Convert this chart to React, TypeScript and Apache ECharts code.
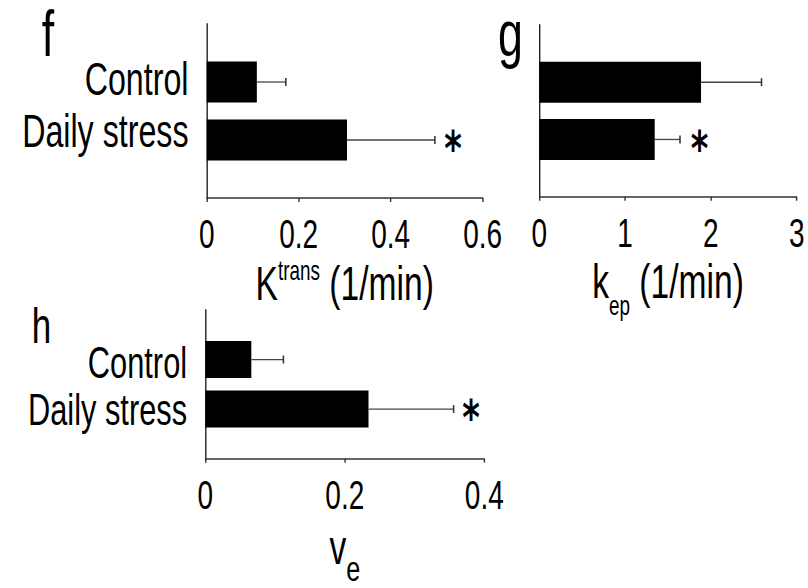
import React, { useEffect, useRef } from 'react';
import * as echarts from 'echarts';

// ---------- data ----------
const categories = ['Control', 'Daily stress'];

const kTransMean = [0.109, 0.305];
const kTransSD = [0.063, 0.191];
const kTransSig = [false, true];
const kTransTicks = [0, 0.2, 0.4, 0.6];

const kepMean = [1.885, 1.345];
const kepSD = [0.705, 0.295];
const kepSig = [false, true];
const kepTicks = [0, 1, 2, 3];

const veMean = [0.066, 0.234];
const veSD = [0.046, 0.122];
const veSig = [false, true];
const veTicks = [0, 0.2, 0.4];

// ---------- layout ----------
const S = 0.7; // horizontal condensation of the whole figure
const W = 808 / S;
const FONT = '"Liberation Sans", Arial, sans-serif';
const MID = 0.3465; // baseline offset below a 'middle' anchor, in em

type Panel = {
  letter: string;
  letterX: number;
  letterBase: number;
  letterSize: number;
  mean: number[];
  sd: number[];
  sig: boolean[];
  ticks: number[];
  x0: number;
  x1: number;
  top: number;
  bottom: number;
  barWidth: number;
  showCats: boolean;
  catFont: number;
  catBase: number[];
  tickFont: number;
  tickBase: number;
  name: string;
  nameBase: number;
  nameRich: any;
  starOffset: number;
};

const NAME_FS = 48;
const NAME_LH = 52;

const panels: Panel[] = [
  {
    letter: 'f', letterX: 41.7, letterBase: 56.6, letterSize: 64,
    mean: kTransMean, sd: kTransSD, sig: kTransSig, ticks: kTransTicks,
    x0: 206.7, x1: 482.7, top: 24, bottom: 198, barWidth: 41,
    showCats: true, catFont: 46, catBase: [95, 146.7],
    tickFont: 40, tickBase: 248,
    name: '{m|K}{s|trans}{m| (1/min)}', nameBase: 300,
    nameRich: {
      m: { fontSize: NAME_FS, lineHeight: NAME_LH, fontFamily: FONT, color: '#000' },
      s: { fontSize: 27, lineHeight: 27, fontFamily: FONT, color: '#000', verticalAlign: 'top' },
    },
    starOffset: 26,
  },
  {
    letter: 'g', letterX: 498, letterBase: 56.6, letterSize: 64,
    mean: kepMean, sd: kepSD, sig: kepSig, ticks: kepTicks,
    x0: 539.3, x1: 796.7, top: 25, bottom: 196.7, barWidth: 41,
    showCats: false, catFont: 46, catBase: [0, 0],
    tickFont: 40, tickBase: 246.5,
    name: '{m|k}{s|ep}{m| (1/min)}', nameBase: 298,
    nameRich: {
      m: { fontSize: NAME_FS, lineHeight: NAME_LH, fontFamily: FONT, color: '#000' },
      s: { fontSize: 27, lineHeight: 27, fontFamily: FONT, color: '#000', padding: [48, 0, 0, 0] },
    },
    starOffset: 28,
  },
  {
    letter: 'h', letterX: 31.7, letterBase: 343, letterSize: 50,
    mean: veMean, sd: veSD, sig: veSig, ticks: veTicks,
    x0: 205.3, x1: 484.3, top: 310, bottom: 463, barWidth: 37,
    showCats: true, catFont: 44, catBase: [379.5, 428.5],
    tickFont: 40, tickBase: 513,
    name: '{m|v}{s|e}', nameBase: 568,
    nameRich: {
      m: { fontSize: NAME_FS, lineHeight: NAME_LH, fontFamily: FONT, color: '#000' },
      s: { fontSize: 36, lineHeight: 36, fontFamily: FONT, color: '#000', padding: [44, 0, 0, 0] },
    },
    starOffset: 25,
  },
];

const paddedCats = ['', ...categories, ''];

function buildOption() {
  const grid: any[] = [];
  const xAxis: any[] = [];
  const yAxis: any[] = [];
  const series: any[] = [];
  const graphic: any[] = [];

  panels.forEach((p, i) => {
    grid.push({
      left: p.x0 / S,
      width: (p.x1 - p.x0) / S,
      top: p.top,
      height: p.bottom - p.top,
      containLabel: false,
    });
    // category positions (boundaryGap false, 4 slots)
    const step = (p.bottom - p.top) / (paddedCats.length - 1);
    const rich: any = {};
    categories.forEach((c, k) => {
      const tickY = p.top + step * (k + 1);
      const center = p.catBase[k] - MID * p.catFont;
      const sh = center - tickY; // = (pt - pb) / 2
      rich['c' + k] = {
        fontSize: p.catFont,
        lineHeight: 40,
        fontFamily: FONT,
        color: '#000',
        padding: sh < 0 ? [0, 0, -2 * sh, 0] : [2 * sh, 0, 0, 0],
      };
    });
    const TICK_LH = 34;
    const tickMargin = p.tickBase - MID * p.tickFont - TICK_LH / 2 - p.bottom;
    const nameGap = p.nameBase - MID * NAME_FS - NAME_LH / 2 - p.bottom;
    xAxis.push({
      type: 'value',
      gridIndex: i,
      min: p.ticks[0],
      max: p.ticks[p.ticks.length - 1],
      interval: p.ticks[1] - p.ticks[0],
      splitLine: { show: false },
      axisLine: { show: true, lineStyle: { color: '#333', width: 1.5 } },
      axisTick: { show: true, length: 4, inside: false, lineStyle: { color: '#333', width: 2 } },
      axisLabel: {
        fontSize: p.tickFont,
        lineHeight: TICK_LH,
        fontFamily: FONT,
        color: '#000',
        margin: tickMargin,
      },
      name: p.name,
      nameLocation: 'middle',
      nameGap,
      nameMoveOverlap: false,
      nameTextStyle: { fontSize: NAME_FS, lineHeight: NAME_LH, fontFamily: FONT, color: '#000', rich: p.nameRich },
    });
    yAxis.push({
      type: 'category',
      gridIndex: i,
      data: paddedCats,
      inverse: true,
      boundaryGap: false,
      axisLine: { show: true, lineStyle: { color: '#222', width: 2 } },
      axisTick: { show: false },
      splitLine: { show: false },
      axisLabel: {
        show: p.showCats,
        interval: 0,
        margin: 26,
        formatter: (v: string) => {
          const k = categories.indexOf(v);
          return k < 0 ? '' : `{c${k}|${v}}`;
        },
        rich,
      },
    });
    series.push({
      type: 'bar',
      xAxisIndex: i,
      yAxisIndex: i,
      barWidth: p.barWidth,
      data: [null, ...p.mean, null],
      itemStyle: { color: '#000' },
      z: 2,
    });
    series.push({
      type: 'custom',
      xAxisIndex: i,
      yAxisIndex: i,
      z: 3,
      encode: { x: 1, y: 0 },
      data: p.mean.map((m, k) => [k + 1, m, p.sd[k], p.sig[k] ? 1 : 0]),
      renderItem: (params: any, api: any) => {
        const cat = api.value(0);
        const m = api.value(1);
        const sd = api.value(2);
        const sig = api.value(3);
        const a = api.coord([m, cat]);
        const b = api.coord([m + sd, cat]);
        const children: any[] = [
          {
            type: 'line',
            shape: { x1: a[0], y1: a[1], x2: b[0], y2: b[1] },
            style: { stroke: '#444', lineWidth: 1.3 },
          },
          {
            type: 'line',
            shape: { x1: b[0], y1: b[1] - 4, x2: b[0], y2: b[1] + 4 },
            style: { stroke: '#333', lineWidth: 2.2 },
          },
        ];
        if (sig) {
          children.push({
            type: 'text',
            x: b[0] + p.starOffset,
            y: b[1] + 9,
            style: {
              text: '*',
              fontSize: 48,
              fontWeight: 'bold',
              fontFamily: '"DejaVu Sans", sans-serif',
              fill: '#000',
              align: 'center',
              verticalAlign: 'middle',
            },
          });
        }
        return { type: 'group', children };
      },
    });
    graphic.push({
      type: 'text',
      x: p.letterX / S,
      y: p.letterBase - MID * p.letterSize,
      style: {
        text: p.letter,
        fontSize: p.letterSize,
        fontFamily: FONT,
        fill: '#000',
        align: 'left',
        verticalAlign: 'middle',
      },
    });
  });

  return {
    animation: false,
    backgroundColor: '#fff',
    grid,
    xAxis,
    yAxis,
    series,
    graphic,
  };
}

export default function App() {
  const ref = useRef<HTMLDivElement>(null);
  useEffect(() => {
    if (!ref.current) return;
    const chart = echarts.init(ref.current, undefined, { renderer: 'svg' });
    chart.setOption(buildOption() as any);
    return () => chart.dispose();
  }, []);
  return (
    <div
      style={{
        position: 'fixed',
        left: 0,
        top: 0,
        width: 808,
        height: 588,
        overflow: 'hidden',
        background: '#fff',
      }}
    >
      <div
        ref={ref}
        style={{
          width: W,
          height: 588,
          transform: `scaleX(${S})`,
          transformOrigin: '0 0',
        }}
      />
    </div>
  );
}
